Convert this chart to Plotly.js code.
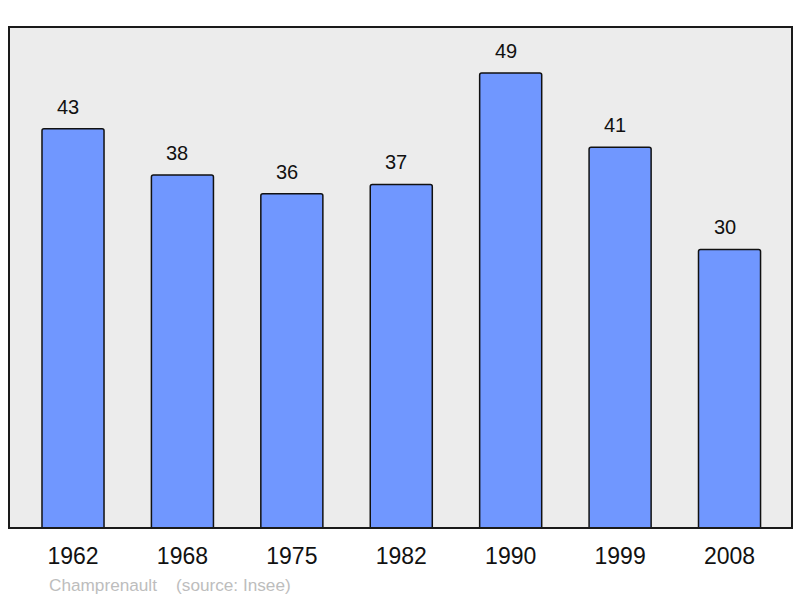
<!DOCTYPE html>
<html>
<head>
<meta charset="utf-8">
<script src="https://cdn.plot.ly/plotly-3.0.1.min.js"></script>
<style>html,body{margin:0;padding:0;background:#fff;}#chart{width:800px;height:598px;}</style>
</head>
<body>
<div id="chart"></div>
<script>
const years = ["1962", "1968", "1975", "1982", "1990", "1999", "2008"];
const population = [43, 38, 36, 37, 49, 41, 30];
const caption = "Champrenault&nbsp;&nbsp;&nbsp;&nbsp;(source: Insee)";

const annotations = years.map((y, i) => ({
  x: i, y: population[i], xref: 'x', yref: 'y',
  text: String(population[i]), showarrow: false,
  yanchor: 'middle', yshift: 22, xshift: -5,
  font: {family: 'Liberation Sans, Arial, sans-serif', size: 20, color: '#111'}
}));
annotations.push({
  xref: 'paper', yref: 'paper', x: 0.0485, y: -0.1138,
  xanchor: 'left', yanchor: 'middle', showarrow: false,
  text: caption,
  font: {family: 'Liberation Sans, Arial, sans-serif', size: 17.2, color: '#bdbdbd'}
});

const trace = {
  type: 'bar', x: years, y: population,
  width: 0.567,
  marker: {color: '#7097ff', line: {color: '#111', width: 1.5}, cornerradius: 2},
  hoverinfo: 'none'
};

const layout = {
  width: 800, height: 598,
  margin: {l: 9, r: 8, t: 27, b: 70},
  paper_bgcolor: '#ffffff', plot_bgcolor: '#ececec',
  showlegend: false,
  xaxis: {type: 'category', range: [-0.585, 6.571], showgrid: false, zeroline: false,
    ticks: '', ticklabelstandoff: 12,
    tickfont: {family: 'Liberation Sans, Arial, sans-serif', size: 23, color: '#111'}},
  yaxis: {range: [0, 53.95], showgrid: false, zeroline: false, showticklabels: false, ticks: ''},
  shapes: [{type: 'rect', xref: 'paper', yref: 'paper', x0: 0, x1: 1, y0: 0, y1: 1,
    line: {color: '#1a1a1a', width: 2}, layer: 'above'}],
  annotations: annotations
};

Plotly.newPlot('chart', [trace], layout, {staticPlot: true, displayModeBar: false});
</script>
</body>
</html>
